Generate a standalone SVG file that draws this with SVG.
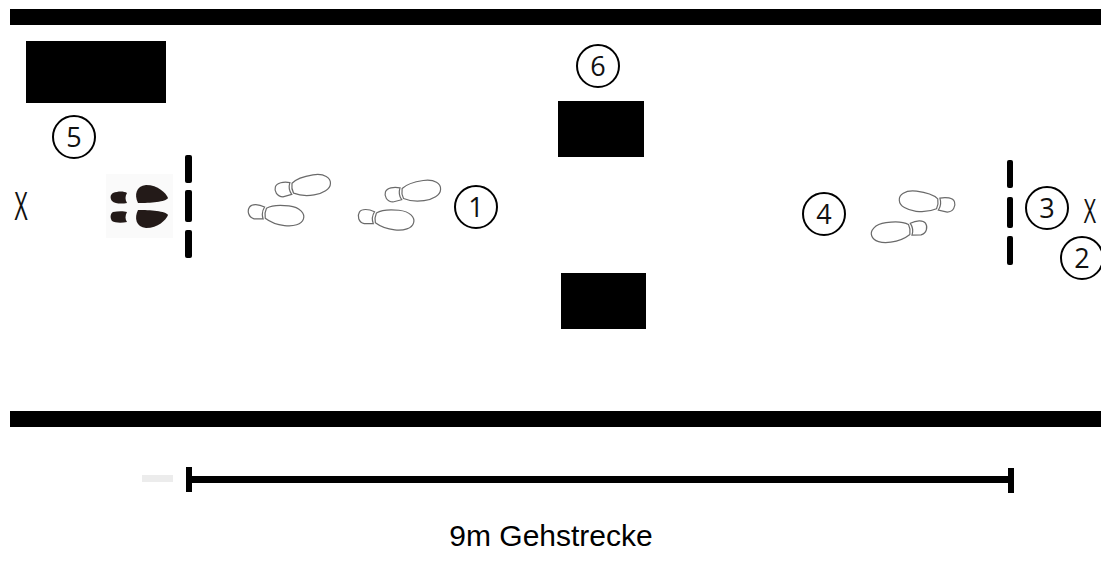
<svg xmlns="http://www.w3.org/2000/svg" width="1101" height="563" viewBox="0 0 1101 563">
  <style>
    .wall { fill: #000; }
    .block { fill: #000; }
    .gate { fill: #000; }
    .marker circle { fill: none; stroke: #000; stroke-width: 2; }
    .marker text { font-family: "Open Sans", "DejaVu Sans", sans-serif; font-size: 27px; text-anchor: middle; fill: #111; }
    .cross { font-family: "Open Sans", "DejaVu Sans", sans-serif; font-size: 38px; fill: #111; text-anchor: middle; }
    .print path { fill: none; stroke: #6a6a6a; stroke-width: 1.2; }
    .shoe { fill: #231a18; }
    .label { font-family: "Liberation Sans", Arial, sans-serif; font-size: 30px; fill: #000; text-anchor: middle; }
  </style>
  <defs>
    <!-- outline of one shoe print, heel at the origin, toe pointing to +x -->
    <g id="step" class="print">
      <path d="M16,-6 C10,-8 3,-8 1,-4 C-1,0 1,6 7,7 L16,6 C14,2 14,-2 16,-6 Z"/>
      <path d="M18,-5 C22,-8 30,-10 40,-10 C52,-10 57,-4 56,1 C55,7 47,10 38,10 C29,10 23,8 18,5 C17,2 17,-2 18,-5 Z"/>
    </g>
  </defs>

  <rect width="1101" height="563" fill="#fff"/>

  <!-- corridor walls -->
  <g id="walls">
    <rect class="wall" x="10" y="9" width="1091" height="16"/>
    <rect class="wall" x="10" y="411" width="1091" height="16"/>
  </g>

  <!-- obstacles -->
  <g id="block-5">
    <rect class="block" x="26" y="41" width="140" height="62"/>
  </g>
  <g id="block-6-top">
    <rect class="block" x="558" y="101" width="86" height="56"/>
  </g>
  <g id="block-6-bottom">
    <rect class="block" x="561" y="273" width="85" height="56"/>
  </g>

  <!-- start and end gates -->
  <g id="gate-start">
    <rect class="gate" x="185" y="155" width="7" height="28" rx="2"/>
    <rect class="gate" x="185" y="190" width="7" height="32" rx="2"/>
    <rect class="gate" x="185" y="230" width="7" height="28" rx="2"/>
  </g>
  <g id="gate-end">
    <rect class="gate" x="1007" y="160" width="6" height="28" rx="2"/>
    <rect class="gate" x="1007" y="197" width="6" height="31" rx="2"/>
    <rect class="gate" x="1007" y="236" width="6" height="29" rx="2"/>
  </g>

  <!-- turning points -->
  <g id="cross-left"><text class="cross" transform="translate(21,220) scale(0.6,1)">X</text></g>
  <g id="cross-right"><text class="cross" transform="translate(1090,223) scale(0.56,0.88)">X</text></g>

  <!-- standing position -->
  <g id="start-feet">
    <rect x="106" y="174" width="67" height="64" fill="#fafafa"/>
    <path class="shoe" d="M113,193 C118,191 124,191 127,193 C125,196 125,200 127,203 C122,204 115,204 112,201 C110,198 110,195 113,193 Z"/>
    <path class="shoe" d="M113,212 C118,211 124,211 127,212 C125,216 125,219 127,222 C122,223 115,223 112,221 C110,218 110,214 113,212 Z"/>
    <path class="shoe" d="M138,203 C134,195 136,186 146,185 C158,185 166,193 168,198 C166,202 150,203 138,203 Z"/>
    <path class="shoe" d="M138,210 C134,218 136,227 146,228 C158,228 166,220 168,215 C166,211 150,210 138,210 Z"/>
  </g>

  <!-- walking steps -->
  <g id="steps-out">
    <use href="#step" transform="translate(275,191) rotate(-9)"/>
    <use href="#step" transform="translate(248,211) rotate(7)"/>
    <use href="#step" transform="translate(385,196) rotate(-8)"/>
    <use href="#step" transform="translate(358,216) rotate(6)"/>
  </g>
  <g id="steps-back">
    <use href="#step" transform="translate(955,206) scale(-1,1) rotate(-7)"/>
    <use href="#step" transform="translate(927,227) scale(-1,1) rotate(8)"/>
  </g>

  <!-- numbered markers -->
  <g id="marker-1" class="marker"><circle cx="476" cy="207" r="21"/><text x="476" y="217">1</text></g>
  <g id="marker-2" class="marker"><circle cx="1082" cy="258" r="21"/><text x="1082" y="268">2</text></g>
  <g id="marker-3" class="marker"><circle cx="1047" cy="208" r="21"/><text x="1047" y="218">3</text></g>
  <g id="marker-4" class="marker"><circle cx="824" cy="214" r="21"/><text x="824" y="224">4</text></g>
  <g id="marker-5" class="marker"><circle cx="74" cy="137" r="21"/><text x="74" y="147">5</text></g>
  <g id="marker-6" class="marker"><circle cx="598" cy="66" r="21"/><text x="598" y="76">6</text></g>

  <!-- distance scale -->
  <g id="scale">
    <rect x="142" y="475" width="31" height="7" fill="#ececec"/>
    <rect x="186" y="476" width="827" height="7" fill="#000"/>
    <rect x="186" y="467" width="6" height="25" fill="#000"/>
    <rect x="1008" y="468" width="6" height="25" fill="#000"/>
    <text class="label" x="551" y="546">9m Gehstrecke</text>
  </g>
</svg>
